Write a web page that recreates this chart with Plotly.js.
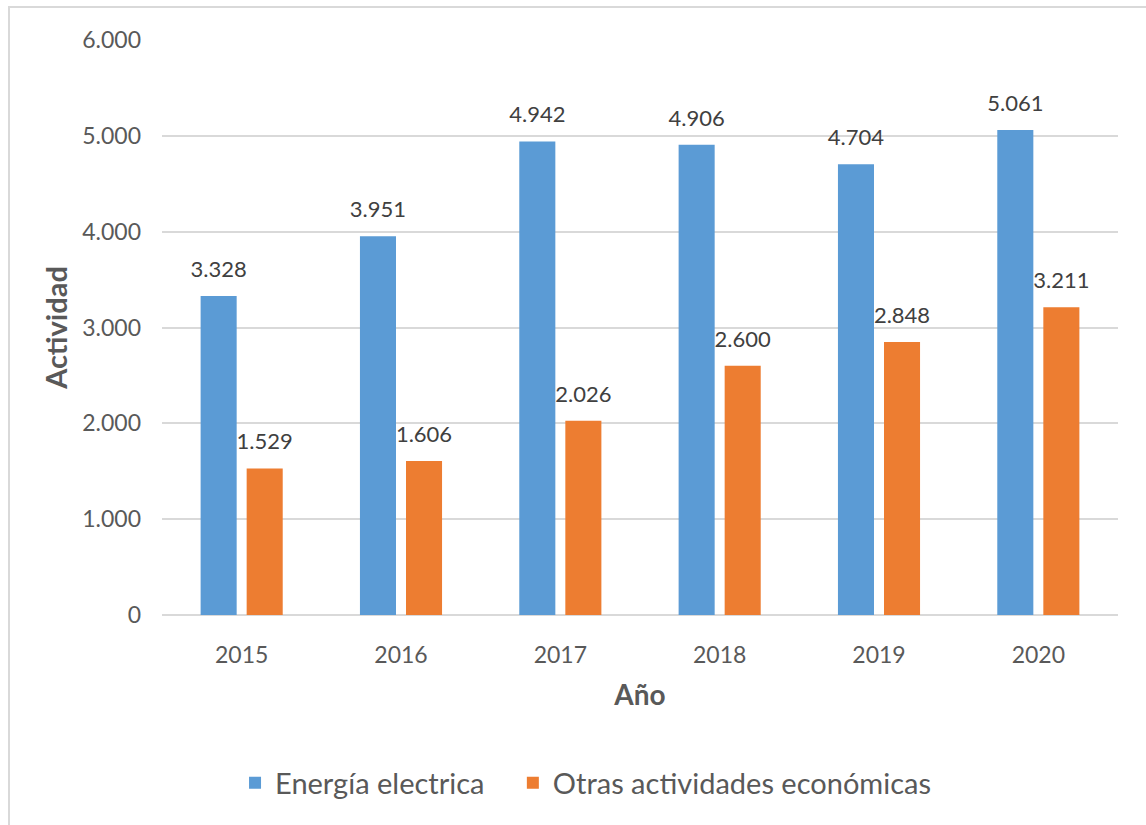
<!DOCTYPE html>
<html>
<head>
<meta charset="utf-8">
<script src="https://cdn.plot.ly/plotly-3.0.1.min.js"></script>
<style>
html,body{margin:0;padding:0;background:#fff;}
#wrap{position:relative;width:1146px;height:825px;}
#chart{width:1146px;height:825px;}
#frame{position:absolute;left:8px;top:6px;right:-10px;bottom:-10px;border-left:2px solid #d9d9d9;border-top:2px solid #d9d9d9;pointer-events:none;}
</style>
</head>
<body>
<div id="wrap"><div id="chart"></div><div id="frame"></div></div>
<script>
const years = ['2015','2016','2017','2018','2019','2020'];
const energia = [3328, 3951, 4942, 4906, 4704, 5061];
const otras = [1529, 1606, 2026, 2600, 2848, 3211];
const seriesNames = ['Energía electrica', 'Otras actividades económicas'];
const colors = ['#5B9BD5', '#ED7D31'];

const FONT = 'Lato, "Liberation Sans", sans-serif';
const BARGAP = 0.422;
const legendIds = ['legend', 'legend2'];

const bars = [energia, otras].map((vals, i) => ({
  type: 'bar',
  x: years,
  y: vals,
  name: seriesNames[i],
  legend: legendIds[i],
  marker: {color: colors[i]},
  hoverinfo: 'none'
}));

// value labels: transparent markers grouped like the bars, text on top
const labels = [energia, otras].map((vals, i) => ({
  type: 'scatter',
  mode: 'markers+text',
  x: years,
  y: vals,
  texttemplate: '%{y:,}',
  textposition: 'top center',
  textfont: {family: FONT, size: 22, color: '#404040'},
  marker: {size: 20, color: 'rgba(0,0,0,0)'},
  showlegend: false,
  cliponaxis: false,
  hoverinfo: 'none'
}));

const legendBase = {
  orientation: 'h', xanchor: 'left', y: -0.292, yanchor: 'middle',
  font: {family: FONT, size: 29, color: '#595959'},
  itemwidth: 30, bgcolor: 'rgba(0,0,0,0)'
};

const layout = {
  width: 1146, height: 825,
  margin: {l: 162, r: 28, t: 40, b: 210},
  paper_bgcolor: '#fff', plot_bgcolor: '#fff',
  separators: ',.',
  barmode: 'group',
  bargap: BARGAP,
  bargroupgap: 0.217,
  scattermode: 'group',
  scattergap: BARGAP,
  font: {family: FONT, color: '#595959'},
  xaxis: {
    type: 'category',
    tickfont: {family: FONT, size: 23, color: '#595959'},
    ticks: '', showline: false, showgrid: false, zeroline: false,
    ticklabelstandoff: 24,
    title: {text: 'Año', font: {family: FONT, size: 28, color: '#595959', weight: 'bold'}, standoff: 18}
  },
  yaxis: {
    range: [0, 6000],
    tickvals: [0, 1000, 2000, 3000, 4000, 5000, 6000],
    tickformat: ',d',
    tickfont: {family: FONT, size: 23, color: '#595959'},
    showgrid: true, gridcolor: '#d9d9d9', gridwidth: 2,
    zeroline: true, zerolinecolor: '#d9d9d9', zerolinewidth: 2,
    showline: false, ticks: '',
    ticklabelstandoff: 20,
    title: {text: 'Actividad', font: {family: FONT, size: 29, color: '#595959', weight: 'bold'}, standoff: 6}
  },
  showlegend: true,
  legend: Object.assign({}, legendBase, {x: 0.0764}),
  legend2: Object.assign({}, legendBase, {x: 0.367})
};

Plotly.newPlot('chart', bars.concat(labels), layout, {displayModeBar: false, staticPlot: true});
</script>
</body>
</html>
